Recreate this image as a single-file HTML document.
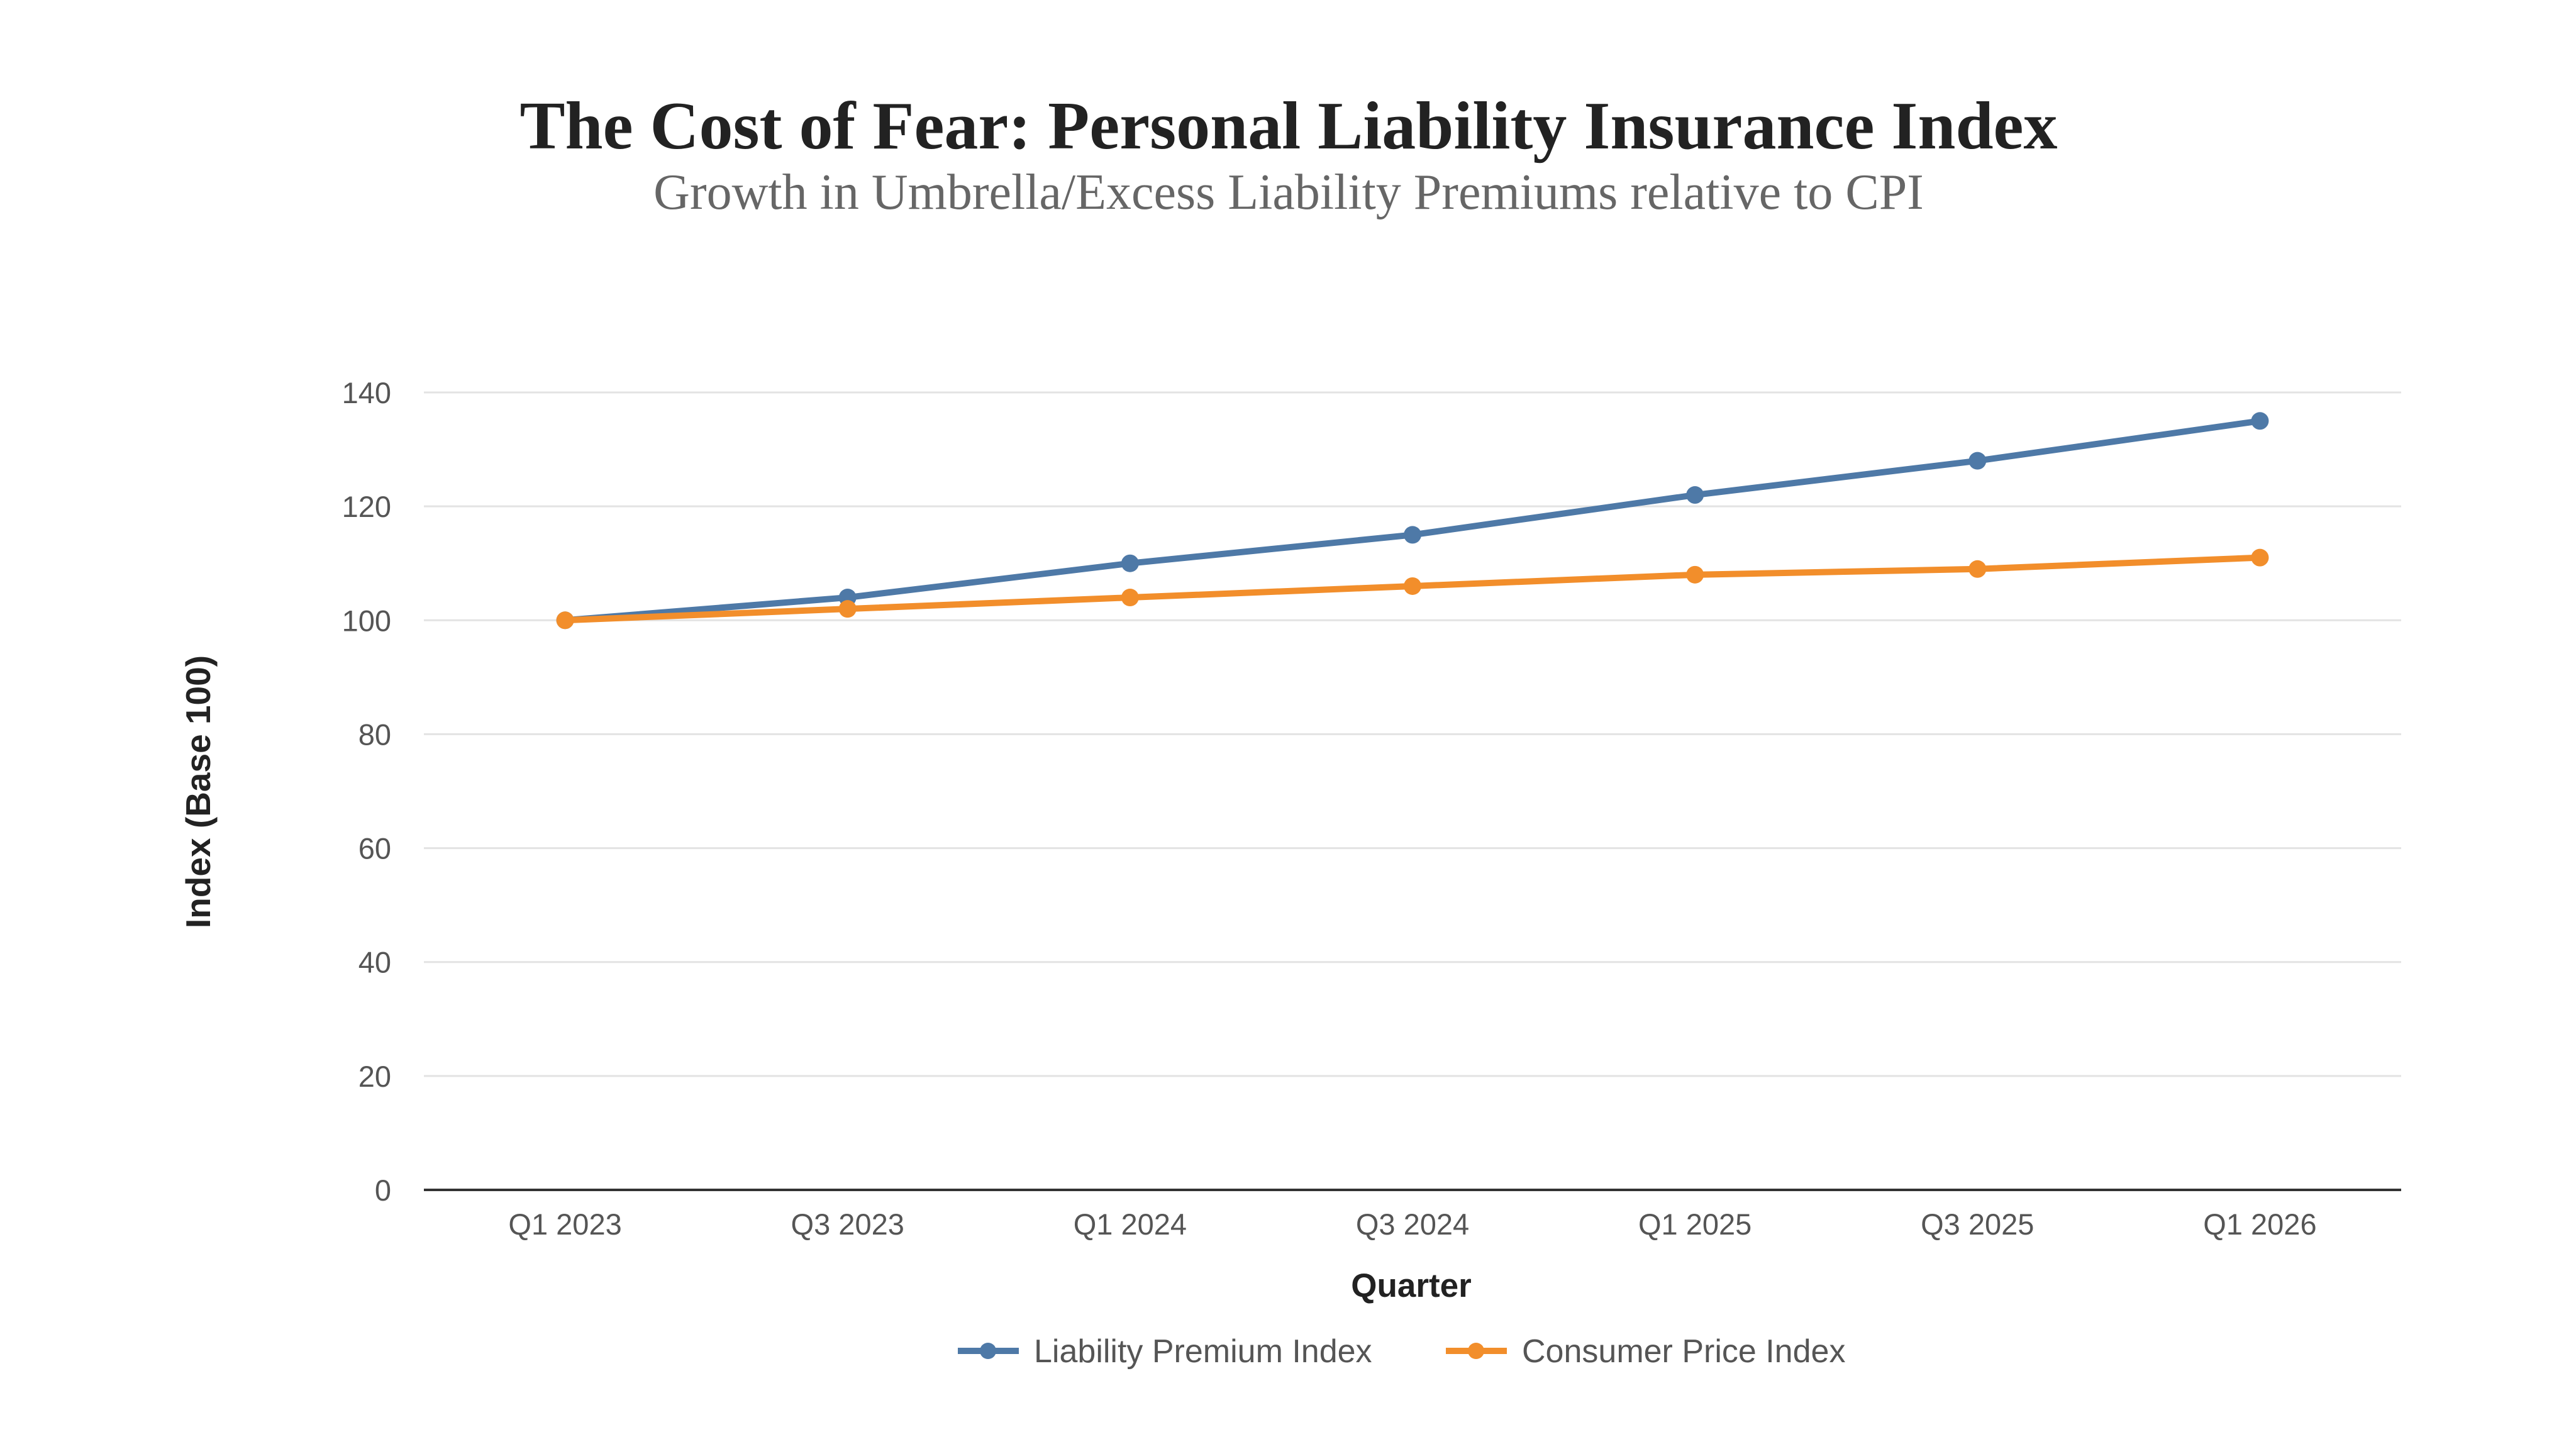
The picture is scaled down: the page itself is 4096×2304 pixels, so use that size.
<!DOCTYPE html>
<html><head><meta charset="utf-8">
<style>
html,body{margin:0;padding:0;background:#fff;}
svg{display:block;}
</style></head>
<body>
<svg id="chart" width="4096" height="2304" viewBox="0 0 4096 2304" xmlns="http://www.w3.org/2000/svg">
<rect width="4096" height="2304" fill="#fff"/>
<text x="2049" y="236" text-anchor="middle" font-family="'Liberation Serif', serif" font-weight="bold" font-size="108" fill="#222">The Cost of Fear: Personal Liability Insurance Index</text>
<text x="2049" y="332" text-anchor="middle" font-family="'Liberation Serif', serif" font-size="80" fill="#666">Growth in Umbrella/Excess Liability Premiums relative to CPI</text>
<g id="grid"></g>
<g id="yticks"></g>
<g id="xticks"></g>
<g id="series"></g>
<text transform="translate(334,1259) rotate(-90)" text-anchor="middle" font-family="'Liberation Sans', sans-serif" font-weight="bold" font-size="55" fill="#222">Index (Base 100)</text>
<text x="2244" y="2062" text-anchor="middle" font-family="'Liberation Sans', sans-serif" font-weight="bold" font-size="53" fill="#222">Quarter</text>
<g>
<g>
<line x1="1523" y1="2148" x2="1620" y2="2148" stroke="#4e79a7" stroke-width="10"/>
<circle cx="1571" cy="2148" r="13" fill="#4e79a7"/>
<text x="1644" y="2166" font-family="'Liberation Sans', sans-serif" font-size="52" fill="#555">Liability Premium Index</text>
</g>
<g>
<line x1="2299" y1="2148" x2="2396" y2="2148" stroke="#f28e2b" stroke-width="10"/>
<circle cx="2347" cy="2148" r="13" fill="#f28e2b"/>
<text x="2420" y="2166" font-family="'Liberation Sans', sans-serif" font-size="52" fill="#555">Consumer Price Index</text>
</g>
</g>
</svg>
<script>
const categories = ["Q1 2023","Q3 2023","Q1 2024","Q3 2024","Q1 2025","Q3 2025","Q1 2026"];
const liabilityValues = [100,104,110,115,122,128,135];
const cpiValues = [100,102,104,106,108,109,111];
const yTicks = [0,20,40,60,80,100,120,140];

const NS="http://www.w3.org/2000/svg";
const L=674,R=3818,T=624,B=1892,YMAX=140;
const band=(R-L)/categories.length;
const xs=i=>L+band*(i+0.5);
const ys=v=>B-(v/YMAX)*(B-T);
function mk(tag,attrs,parent){const e=document.createElementNS(NS,tag);for(const k in attrs)e.setAttribute(k,attrs[k]);parent.appendChild(e);return e;}
const grid=document.getElementById('grid'),yt=document.getElementById('yticks'),xt=document.getElementById('xticks'),ser=document.getElementById('series');
yTicks.forEach(v=>{
  if(v>0){const g=mk('line',{x1:L,x2:R,y1:ys(v),y2:ys(v),stroke:'#e3e3e3','stroke-width':3},grid);
  
  }
  const t=mk('text',{x:622,y:ys(v)+17,'text-anchor':'end','font-family':"'Liberation Sans', sans-serif",'font-size':47,fill:'#555'},yt);
  
  
  t.textContent=v;
});
const ax=mk('line',{x1:L,x2:R,y1:B,y2:B,stroke:'#333','stroke-width':4},xt);


categories.forEach((c,i)=>{
  const t=mk('text',{x:xs(i),y:1963,'text-anchor':'middle','font-family':"'Liberation Sans', sans-serif",'font-size':47,fill:'#555'},xt);
  
  
  t.textContent=c;
});
function drawSeries(vals,color,name){
  const g=mk('g',{},ser);
  
  
  const p=mk('polyline',{points:vals.map((v,i)=>xs(i)+','+ys(v)).join(' '),fill:'none',stroke:color,'stroke-width':10,'stroke-linejoin':'round'},g);
  
  
  vals.forEach((v,i)=>{
    const c=mk('circle',{cx:xs(i),cy:ys(v),r:14,fill:color},g);
    
    
  });
}
drawSeries(liabilityValues,'#4e79a7','liability-series');
drawSeries(cpiValues,'#f28e2b','cpi-series');
</script>
</body></html>
